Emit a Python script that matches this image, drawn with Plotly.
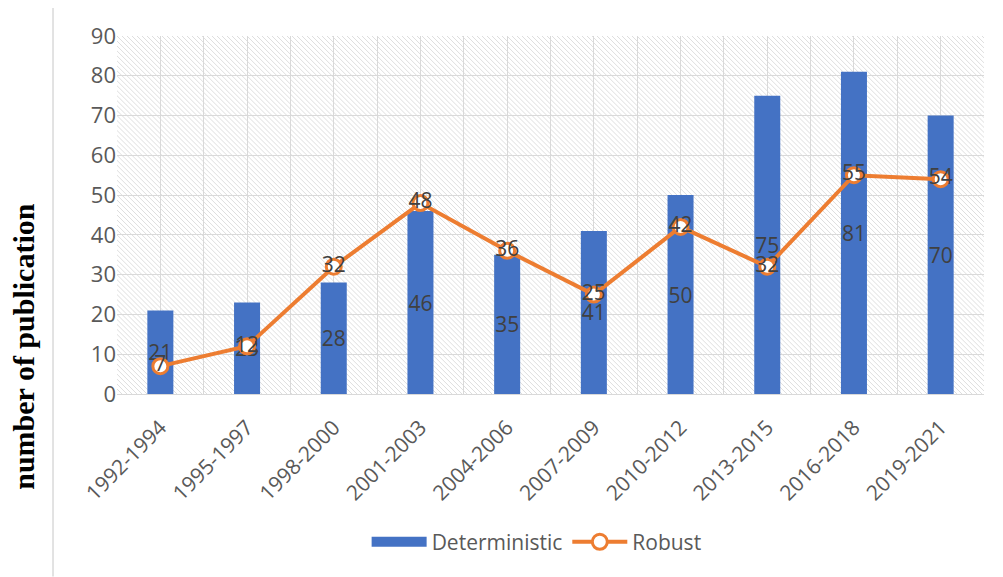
import base64
import numpy as np
import plotly.graph_objects as go

# periods and publication counts
periods = ["1992-1994", "1995-1997", "1998-2000", "2001-2003", "2004-2006",
           "2007-2009", "2010-2012", "2013-2015", "2016-2018", "2019-2021"]
deterministic = [21, 23, 28, 46, 35, 41, 50, 75, 81, 70]
robust = [7, 12, 32, 48, 36, 25, 42, 32, 55, 54]

xpos = list(range(len(periods)))

# hatched background for the plot area (Excel pattern fill)
svg = ('<svg xmlns="http://www.w3.org/2000/svg" width="867" height="360">'
       '<defs><pattern id="h" patternUnits="userSpaceOnUse" width="5" height="5">'
       '<path d="M0,0 L5,5 M-1,4 L1,6 M4,-1 L6,1" stroke="#dedede" stroke-width="1"/>'
       '</pattern></defs><rect width="867" height="360" fill="#ffffff"/>'
       '<rect width="867" height="360" fill="url(#h)"/></svg>')
bg = "data:image/svg+xml;base64," + base64.b64encode(svg.encode()).decode()

fig = go.Figure()

fig.add_trace(go.Bar(
    x=xpos, y=deterministic, name="Deterministic", width=0.3,
    marker=dict(color="#4472C4", line=dict(width=0)),
    text=deterministic, textposition="inside", insidetextanchor="middle",
    constraintext="none",
    textfont=dict(size=21, color="#404040"), textangle=0,
    showlegend=False,
))

fig.add_trace(go.Scatter(
    x=xpos, y=robust, name="Robust", mode="lines+markers+text",
    line=dict(color="#ED7D31", width=4),
    marker=dict(symbol="circle", size=15, color="white",
                line=dict(color="#ED7D31", width=3)),
    text=robust, textposition="middle center",
    textfont=dict(size=21, color="#404040"),
    showlegend=False,
))

# legend entries (wide swatch for the bars like Excel)
fig.add_trace(go.Scatter(x=[None], y=[None], mode="lines", name="Deterministic",
                         line=dict(color="#4472C4", width=14)))
fig.add_trace(go.Scatter(x=[None], y=[None], mode="lines+markers", name="Robust",
                         line=dict(color="#ED7D31", width=4),
                         marker=dict(symbol="circle", size=15, color="white",
                                     line=dict(color="#ED7D31", width=3))))

fig.update_layout(
    width=995, height=569,
    margin=dict(l=109, r=19, t=26, b=183),
    paper_bgcolor="white", plot_bgcolor="rgba(0,0,0,0)",
    font=dict(family="Open Sans", color="#595959", size=21),
    legend=dict(orientation="h", x=0.484, xanchor="center", y=-0.414,
                yanchor="middle", font=dict(size=21, color="#595959"),
                itemwidth=55, traceorder="normal"),
    images=[dict(source=bg, xref="paper", yref="paper", x=0, y=1,
                 sizex=1, sizey=1, xanchor="left", yanchor="top",
                 sizing="stretch", layer="below")],
    shapes=[dict(type="line", xref="paper", yref="paper",
                 x0=-0.0738, x1=-0.0738, y0=-0.51, y1=1.1,
                 line=dict(color="#d9d9d9", width=1.5))],
    annotations=[dict(text="<b>number of publication</b>", textangle=-90,
                      xref="paper", yref="paper", x=-0.108, y=0.133,
                      xanchor="center", yanchor="middle", showarrow=False,
                      font=dict(family="Liberation Serif", size=30, color="black"))],
)

fig.update_xaxes(
    range=[-0.5, len(periods) - 0.5],
    tickmode="array", tickvals=xpos, ticktext=periods, tickangle=-45,
    tickfont=dict(size=21, color="#595959"), ticklabelstandoff=12,
    showgrid=True, gridcolor="#d9d9d9", gridwidth=1,
    minor=dict(tickvals=list(np.arange(-0.5, len(periods), 1.0)),
               showgrid=True, gridcolor="#d9d9d9", gridwidth=1, ticks=""),
    showline=True, linecolor="#d9d9d9", linewidth=1, ticks="", zeroline=False,
)

fig.update_yaxes(
    range=[0, 90], dtick=10, tickfont=dict(size=22, color="#595959"),
    showgrid=True, gridcolor="#d9d9d9", gridwidth=1,
    zeroline=False, showline=False, ticks="",
)

fig.write_html("out.html")
